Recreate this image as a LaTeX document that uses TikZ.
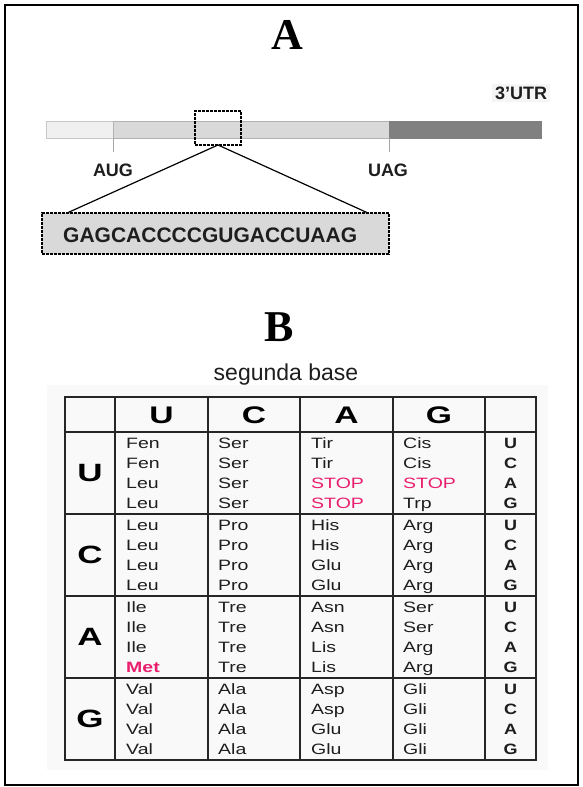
\documentclass[tikz,border=0pt]{standalone}
\usepackage{fontspec}
\setmainfont{Liberation Sans}
\newfontfamily\serifb{Liberation Serif}
\newfontfamily\tabf[FakeStretch=1.3]{Liberation Sans}
\newfontfamily\widef[FakeStretch=1.4]{Liberation Sans}
\newfontfamily\widesm[FakeStretch=1.2]{Liberation Sans}
\definecolor{stopc}{RGB}{233,30,110}
\definecolor{txt}{RGB}{30,30,30}
\newcommand\stopw{\textcolor{stopc}{STOP}}
\newcommand\metw{\textcolor{stopc}{\bfseries Met}}
\begin{document}
\begin{tikzpicture}[x=1pt,y=-1pt,
  seg/.style={inner sep=0pt, outer sep=0pt, anchor=north west, minimum height=17pt},
  dbox/.style={draw=black, line width=1.5pt, dash pattern=on 3pt off 1pt, inner sep=0pt, outer sep=0pt, anchor=north west},
  lab/.style={font=\bfseries\fontsize{18}{18}\selectfont, text=txt, inner sep=1pt},
  big/.style={font=\serifb\bfseries\fontsize{44}{44}\selectfont, inner sep=0pt},
  cell/.style={font=\tabf\fontsize{15}{15}\selectfont, text=txt, anchor=base west, inner sep=0pt},
  hdr/.style={font=\widef\bfseries\fontsize{24}{24}\selectfont, text=black, inner sep=0pt},
  rhs/.style={font=\widesm\bfseries\fontsize{15}{15}\selectfont, text=txt, inner sep=0pt},
  tline/.style={line width=1.3pt, draw=black!85}
]
\useasboundingbox (0,0) rectangle (583,787);
\fill[white] (0,0) rectangle (583,787);
\draw[line width=2pt] (5,5) rectangle (578,785);

% ---------- A ----------
\node[big] (titleA) at (287,35) {A};
\node[lab, fill=black!4, inner sep=3pt] (utr) at (521,93) {3’UTR};
\node[seg, fill=black!6, draw=black!22, minimum width=67pt] (utr5) at (46,121) {};
\node[seg, fill=black!15, draw=black!30, minimum width=276pt] (cds) at (113,121) {};
\node[seg, fill=black!50, draw=black!50, minimum width=152pt] (utr3) at (389,121) {};
\node[dbox, minimum width=46pt, minimum height=34pt] (zoombox) at (195,111) {};
\coordinate (tickL) at (113,152);
\coordinate (tickR) at (389,152);
\draw[black!35, line width=1pt] (cds.south west) -- (tickL);
\draw[black!35, line width=1pt] (utr3.south west) -- (tickR);
\node[lab] (aug) at (113,170) {AUG};
\node[lab] (uag) at (388,170) {UAG};
\node[dbox, fill=black!15, minimum width=347pt, minimum height=41pt] (seqbox) at (42,213) {};
\node[font=\bfseries\fontsize{21}{21}\selectfont, text=txt, anchor=west, inner sep=0pt] (seq) at (63,235) {GAGCACCCCGUGACCUAAG};
\coordinate (cl) at (67,213);
\coordinate (cr) at (368,213);
\draw[line width=1.2pt] (zoombox.south) -- (cl);
\draw[line width=1.2pt] (zoombox.south) -- (cr);

% ---------- B ----------
\node[big] (titleB) at (279,327) {B};
\node[font=\fontsize{23}{23}\selectfont, text=txt, inner sep=0pt] (seg2) at (286,375) {segunda base};
\fill[black!2.5] (47,385) rectangle (548,770);

% table grid
\foreach \xx in {115,208,300,393,485}{\draw[tline] (\xx,397) -- (\xx,760);}
\foreach \yy in {432,514,596,678}{\draw[tline] (65,\yy) -- (536,\yy);}
\draw[line width=1.7pt, draw=black!85] (65,397) rectangle (536,760);

% headers
\foreach \l/\xx in {U/161.5,C/254,A/346.5,G/439}{\node[hdr] (h\l) at (\xx,415) {\l};}
\foreach \l [count=\b from 0] in {U,C,A,G}{
  \pgfmathsetmacro\yc{473+82*\b}
  \node[hdr, font=\widef\bfseries\fontsize{25}{25}\selectfont] (r\l) at (90,\yc) {\l};
  \foreach \t [count=\k from 0] in {U,C,A,G}{
    \pgfmathsetmacro\yt{432+82*\b+11.5+20*\k}
    \node[rhs] (th\b\t) at (510.5,\yt) {\t};
  }
}

% amino acids
\foreach \xx/\lst [count=\c] in {
 126/{Fen,Fen,Leu,Leu,Leu,Leu,Leu,Leu,Ile,Ile,Ile,\metw,Val,Val,Val,Val},
 218/{Ser,Ser,Ser,Ser,Pro,Pro,Pro,Pro,Tre,Tre,Tre,Tre,Ala,Ala,Ala,Ala},
 311/{Tir,Tir,\stopw,\stopw,His,His,Glu,Glu,Asn,Asn,Lis,Lis,Asp,Asp,Glu,Glu},
 403/{Cis,Cis,\stopw,Trp,Arg,Arg,Arg,Arg,Ser,Ser,Arg,Arg,Gli,Gli,Gli,Gli}}{
  \foreach \aa [count=\r from 0] in \lst {
    \pgfmathsetmacro\blk{int(\r/4)}
    \pgfmathsetmacro\kk{int(mod(\r,4))}
    \pgfmathsetmacro\yb{432+82*\blk+11.5+20*\kk+5.4}
    \node[cell] (aa\c-\r) at (\xx,\yb) {\aa};
  }
}
\end{tikzpicture}
\end{document}
